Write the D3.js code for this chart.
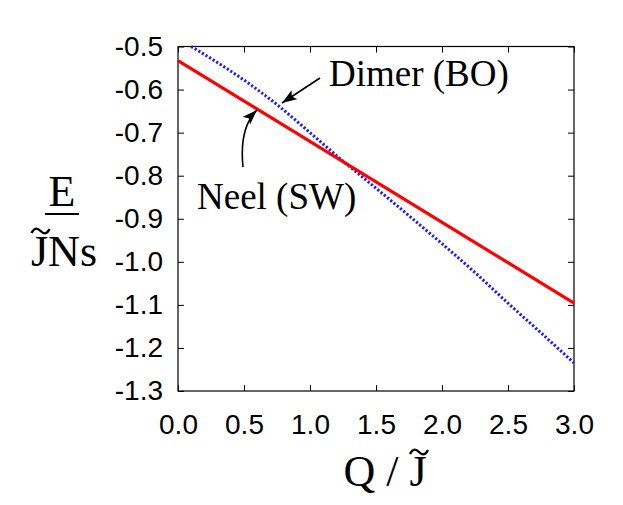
<!DOCTYPE html>
<html lang="en">
<head>
<meta charset="utf-8">
<title>Neel vs Dimer energy</title>
<script src="https://d3js.org/d3.v7.min.js"></script>
<style>
  body { margin: 0; background: #fff; }
  .axis text { font: 28px "Liberation Sans", Arial, sans-serif; fill: #000; }
  .axis line { stroke: #000; stroke-width: 1; }
  .lbl { font-family: "Liberation Serif", "Times New Roman", serif; fill: #000; }
</style>
</head>
<body>
<svg id="chart" width="623" height="505"></svg>
<script>
// tick values
const xTicks = [0.0, 0.5, 1.0, 1.5, 2.0, 2.5, 3.0];
const yTicks = [-0.5, -0.6, -0.7, -0.8, -0.9, -1.0, -1.1, -1.2, -1.3];

// Neel (SW): straight line
const neelQ = [0.0, 3.0];
const neelE = [-0.533, -1.096];

// Dimer (BO): dotted curve
const dimerQ = [0.1, 0.25, 0.5, 0.75, 1.0, 1.25, 1.5, 1.75, 2.0, 2.25, 2.5, 2.75, 3.0];
const dimerE = [-0.500, -0.528, -0.578, -0.635, -0.700, -0.766, -0.829, -0.893, -0.958, -1.025, -1.096, -1.165, -1.235];

var margin = {top: 46.5, right: 49, bottom: 114, left: 178},
    width = 623 - margin.left - margin.right,
    height = 505 - margin.top - margin.bottom;

var svg = d3.select('#chart');
var g = svg.append('g').attr('transform', 'translate(' + margin.left + ',' + margin.top + ')');

var x = d3.scaleLinear().domain([0, 3]).range([0, width]);
var y = d3.scaleLinear().domain([-1.3, -0.5]).range([height, 0]);

var fmt = function(d) { return d.toFixed(1); };

// axes with inward ticks
g.append('g').attr('class', 'axis')
  .call(d3.axisLeft(y).tickValues(yTicks).tickSize(-6).tickPadding(15).tickFormat(fmt));
g.append('g').attr('class', 'axis')
  .attr('transform', 'translate(0,' + height + ')')
  .call(d3.axisBottom(x).tickValues(xTicks).tickSize(-6).tickPadding(23).tickFormat(fmt));
g.append('g').attr('class', 'axis')
  .call(d3.axisTop(x).tickValues(xTicks).tickSize(-6).tickFormat(''));
g.append('g').attr('class', 'axis')
  .attr('transform', 'translate(' + width + ',0)')
  .call(d3.axisRight(y).tickValues(yTicks).tickSize(-6).tickFormat(''));
g.selectAll('.domain').remove();

g.append('rect')
  .attr('width', width).attr('height', height)
  .attr('fill', 'none').attr('stroke', '#000').attr('stroke-width', 1.2);

// curves
var neel = neelQ.map(function(q, i) { return [q, neelE[i]]; });
var dimer = dimerQ.map(function(q, i) { return [q, dimerE[i]]; });

g.append('path').datum(dimer)
  .attr('d', d3.line().curve(d3.curveMonotoneX)
    .x(function(d) { return x(d[0]); }).y(function(d) { return y(d[1]); }))
  .attr('fill', 'none').attr('stroke', '#1a1aff')
  .attr('stroke-width', 3).attr('stroke-dasharray', '2.2,2');

g.append('path').datum(neel)
  .attr('d', d3.line().x(function(d) { return x(d[0]); }).y(function(d) { return y(d[1]); }))
  .attr('fill', 'none').attr('stroke', '#ff0000').attr('stroke-width', 3.2);

// arrow heads
svg.append('defs').append('marker')
  .attr('id', 'head')
  .attr('viewBox', '0 0 14 10')
  .attr('refX', 14).attr('refY', 5)
  .attr('markerUnits', 'userSpaceOnUse')
  .attr('markerWidth', 15).attr('markerHeight', 11)
  .attr('orient', 'auto')
  .append('path').attr('d', 'M0,0 L14,5 L0,10 L3,5 z').attr('fill', '#000');

// annotations
svg.append('text').attr('class', 'lbl').attr('x', 329).attr('y', 86)
  .style('font-size', '37px').text('Dimer (BO)');
svg.append('path').attr('d', 'M320,78 L282,103')
  .attr('stroke', '#000').attr('stroke-width', 1.6).attr('fill', 'none')
  .attr('marker-end', 'url(#head)');

svg.append('text').attr('class', 'lbl').attr('x', 197).attr('y', 209)
  .style('font-size', '37px').text('Neel (SW)');
svg.append('path').attr('d', 'M243,167 Q239,128 257,110')
  .attr('stroke', '#000').attr('stroke-width', 1.6).attr('fill', 'none')
  .attr('marker-end', 'url(#head)');

// y label: E over J~Ns
svg.append('text').attr('class', 'lbl').attr('x', 62).attr('y', 206)
  .attr('text-anchor', 'middle').style('font-size', '44px').text('E');
svg.append('line').attr('x1', 45).attr('x2', 79).attr('y1', 214).attr('y2', 214)
  .attr('stroke', '#000').attr('stroke-width', 2);
var jns = svg.append('text').attr('class', 'lbl').attr('x', 64).attr('y', 266)
  .attr('text-anchor', 'middle').style('font-size', '44px').text('JNs');

// tilde accent drawn over a given character
function tildeOver(t, idx, cy) {
  var n = t.node();
  var a = n.getStartPositionOfChar(idx).x, b = n.getEndPositionOfChar(idx).x;
  var cx = (a + b) / 2 + 1, w = 9;
  svg.append('path')
    .attr('d', 'M' + (cx - w) + ',' + (cy + 2) +
      ' C' + (cx - w + 3) + ',' + (cy - 4) + ' ' + (cx - 3) + ',' + (cy - 3) + ' ' + cx + ',' + cy +
      ' S' + (cx + w - 3) + ',' + (cy + 4) + ' ' + (cx + w) + ',' + (cy - 2))
    .attr('fill', 'none').attr('stroke', '#000').attr('stroke-width', 2.4);
}
tildeOver(jns, 0, 231);

// x label: Q / J~
var xl = svg.append('text').attr('class', 'lbl').attr('x', 385).attr('y', 486)
  .attr('text-anchor', 'middle').style('font-size', '44px').text('Q / J');
tildeOver(xl, 4, 452);
</script>
</body>
</html>
